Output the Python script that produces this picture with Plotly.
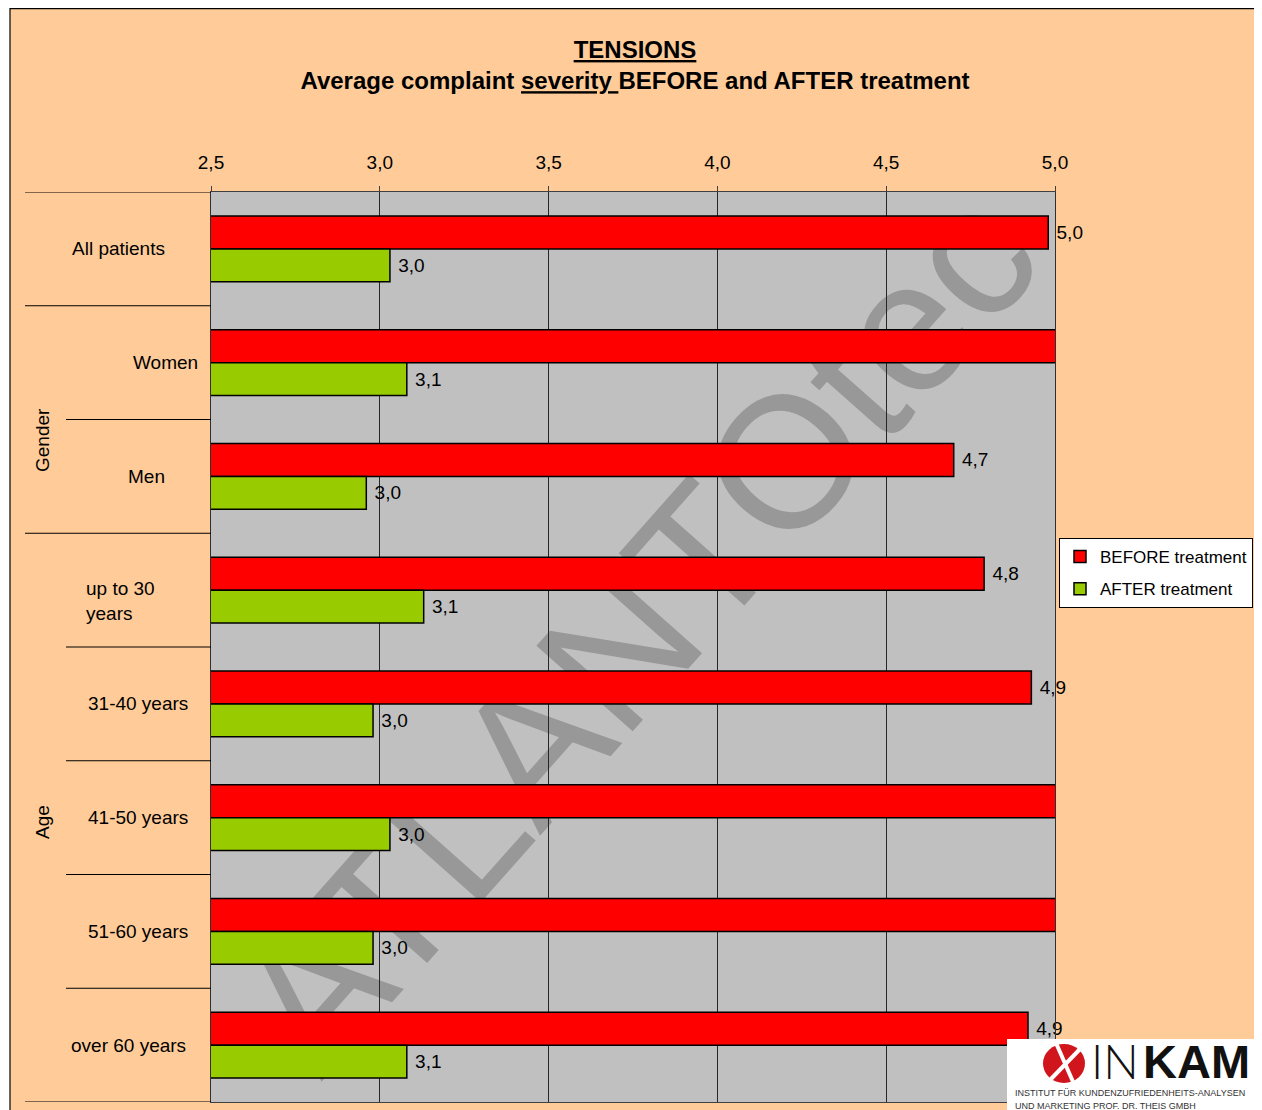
import plotly.graph_objects as go

# the page body adds an 8 px margin, so the figure covers page pixels 8..1262 / 8..1110
OFF = 8
W, H = 1262 - OFF, 1110 - OFF

categories = ["All patients", "Women", "Men", "up to 30 years",
              "31-40 years", "41-50 years", "51-60 years", "over 60 years"]
category_text = ["All patients", "Women", "Men", "up to 30<br>years",
                 "31-40 years", "41-50 years", "51-60 years", "over 60 years"]
before_values = [4.98, 5.01, 4.70, 4.79, 4.93, 5.01, 5.01, 4.92]
after_values = [3.03, 3.08, 2.96, 3.13, 2.98, 3.03, 2.98, 3.08]
x_ticks = [2.5, 3.0, 3.5, 4.0, 4.5, 5.0]
group_names = ["Gender", "Age"]

X_MAX = 5.0
FONT = "Liberation Sans, Arial, sans-serif"
PEACH = "#FFCC99"
RED = "#FF0000"
GREEN = "#99CC00"


def px(x):
    # page pixel -> paper fraction
    return (x - OFF) / W


def py(y):
    return 1 - (y - OFF) / H


def fmt(v):
    # Excel hides labels of bars that run past the axis maximum
    return "" if v > X_MAX else "\u00a0" + f"{v:.1f}".replace(".", ",")


fig = go.Figure()
fig.add_trace(go.Bar(
    y=categories, x=before_values, orientation="h", name="BEFORE treatment",
    legendgroup="before",
    marker=dict(color=RED, line=dict(color="black", width=1.5)),
    text=[fmt(v) for v in before_values], textposition="outside",
    textfont=dict(size=19, color="black", family=FONT),
    constraintext="none", cliponaxis=False,
))
fig.add_trace(go.Bar(
    y=categories, x=after_values, orientation="h", name="AFTER treatment",
    legendgroup="after",
    marker=dict(color=GREEN, line=dict(color="black", width=1.5)),
    text=[fmt(v) for v in after_values], textposition="outside",
    textfont=dict(size=19, color="black", family=FONT),
    constraintext="none", cliponaxis=False,
))

shapes = []
# white strip outside the chart frame + frame line
shapes.append(dict(type="rect", xref="paper", yref="paper", x0=0, x1=px(10), y0=0, y1=1,
                   fillcolor="white", line_width=0, layer="below"))
shapes.append(dict(type="rect", xref="paper", yref="paper", x0=px(10), x1=px(1280), y0=py(1130), y1=py(8.7),
                   line=dict(color="black", width=1.2), layer="below"))

# watermark
shapes.append(dict(type="rect", xref="paper", yref="paper", x0=px(613), x1=px(633), y0=py(628), y1=py(608),
                   line_width=0, fillcolor="rgba(0,0,0,0)", layer="below",
                   label=dict(text="ATLANTOtec", textangle=-48.4, textposition="middle center",
                              font=dict(size=187, color="#989898", family=FONT))))

# separator lines of the category / group headers
long_lines = [-0.5, 0.5, 2.5, 7.5]
short_lines = [1.5, 3.5, 4.5, 5.5, 6.5]
for b in long_lines:
    shapes.append(dict(type="line", xref="paper", yref="y", x0=px(25), x1=px(211), y0=b, y1=b,
                       line=dict(color="black", width=1)))
for b in short_lines:
    shapes.append(dict(type="line", xref="paper", yref="y", x0=px(66), x1=px(211), y0=b, y1=b,
                       line=dict(color="black", width=1)))

# INKAM logo box
shapes.append(dict(type="rect", xref="paper", yref="paper", x0=px(1007), x1=px(1256), y0=py(1115), y1=py(1039),
                   fillcolor="white", line_width=0, layer="above"))
shapes.append(dict(type="circle", xref="paper", yref="paper", x0=px(1043), x1=px(1085), y0=py(1083), y1=py(1044),
                   fillcolor="#D0161C", line_width=0, layer="above"))
shapes.append(dict(type="line", xref="paper", yref="paper", x0=px(1056), x1=px(1074), y0=py(1043), y1=py(1084),
                   line=dict(color="white", width=4), layer="above"))
shapes.append(dict(type="line", xref="paper", yref="paper", x0=px(1082), x1=px(1050), y0=py(1047), y1=py(1080),
                   line=dict(color="white", width=4), layer="above"))

annotations = []
label_left = [70, 131, 126, 84, 86, 86, 86, 69]
label_shift = [0, 0, 0, -11, 0, 0, 0, 0]
for cat, txt, xl, sh in zip(categories, category_text, label_left, label_shift):
    annotations.append(dict(text=txt, xref="paper", yref="y", x=px(xl), y=cat, xanchor="left",
                            yanchor="middle", align="left", showarrow=False, yshift=sh,
                            font=dict(size=19, color="black", family=FONT)))
for name, yc in zip(group_names, [440, 822]):
    annotations.append(dict(text=name, xref="paper", yref="paper", x=px(42), y=py(yc), textangle=-90,
                            xanchor="center", yanchor="middle", showarrow=False,
                            font=dict(size=19, color="black", family=FONT)))

annotations.append(dict(text="IN", xref="paper", yref="paper", x=px(1089), y=py(1061),
                        xanchor="left", yanchor="middle", showarrow=False,
                        font=dict(size=47, color="#111111", family="Lato", weight=300)))
annotations.append(dict(text="<b>KAM</b>", xref="paper", yref="paper", x=px(1252), y=py(1061),
                        xanchor="right", yanchor="middle", showarrow=False,
                        font=dict(size=47, color="#111111", family=FONT)))
for txt, yc in zip(["INSTITUT FÜR KUNDENZUFRIEDENHEITS-ANALYSEN", "UND MARKETING PROF. DR. THEIS GMBH"],
                   [1093, 1106]):
    annotations.append(dict(text=txt, xref="paper", yref="paper", x=px(1013), y=py(yc),
                            xanchor="left", yanchor="middle", showarrow=False,
                            font=dict(size=9, color="#333333", family=FONT)))

fig.update_layout(
    width=W, height=H,
    margin=dict(l=0, r=0, t=0, b=0, pad=0),
    paper_bgcolor=PEACH,
    plot_bgcolor="#C0C0C0",
    separators=",.",
    font=dict(family=FONT, color="black", size=19),
    title=dict(
        text="<b><u>TENSIONS</u></b><br><b>Average complaint <u>severity </u>BEFORE and AFTER treatment</b>",
        x=px(635), xanchor="center", y=py(58), yanchor="top",
        font=dict(size=24, color="black", family=FONT),
    ),
    barmode="group", bargap=0.42, bargroupgap=0,
    xaxis=dict(
        domain=[px(211), px(1055)], range=[2.5, X_MAX], side="top",
        tickvals=x_ticks, tickformat=".1f", ticks="outside", ticklen=5, tickcolor="#404040",
        ticklabelstandoff=9, tickfont=dict(size=19, color="black"),
        showgrid=True, gridcolor="#262626", gridwidth=1,
        showline=True, linecolor="#404040", linewidth=1, mirror=True,
        zeroline=False, fixedrange=True, automargin=False,
    ),
    yaxis=dict(
        domain=[py(1102), py(192)], type="category", categoryorder="array",
        categoryarray=categories, range=[7.5, -0.5],
        showticklabels=False, showgrid=False, zeroline=False,
        showline=True, linecolor="#303030", linewidth=1, mirror=True,
        fixedrange=True, automargin=False,
    ),
    legend=dict(
        x=px(1253), xanchor="right", y=py(538), yanchor="top",
        bgcolor="white", bordercolor="black", borderwidth=1,
        font=dict(size=17, color="black", family=FONT),
        traceorder="grouped", tracegroupgap=7,
    ),
    shapes=shapes,
    annotations=annotations,
)

fig.write_html("out.html")
